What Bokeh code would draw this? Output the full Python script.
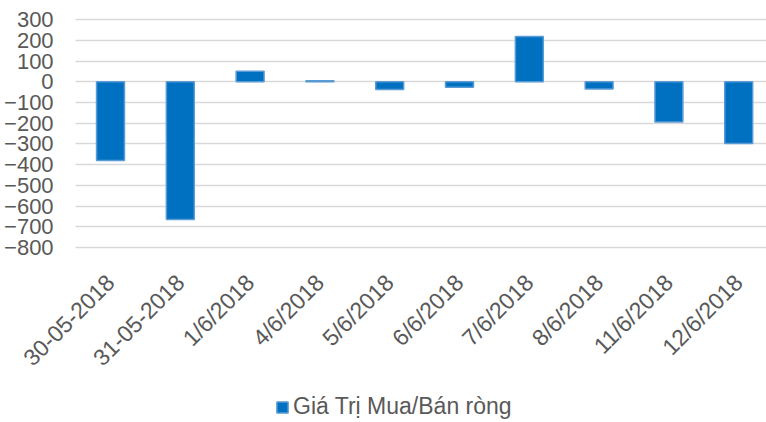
import math
from bokeh.plotting import figure
from bokeh.models import Range1d, FixedTicker, Legend, LegendItem, ColumnDataSource
from bokeh.embed import file_html
from bokeh.resources import INLINE

categories = ["30-05-2018", "31-05-2018", "1/6/2018", "4/6/2018", "5/6/2018",
              "6/6/2018", "7/6/2018", "8/6/2018", "11/6/2018", "12/6/2018"]
values = [-380, -665, 50, 5, -38, -27, 218, -35, -194, -298]
y_ticks = [300, 200, 100, 0, -100, -200, -300, -400, -500, -600, -700, -800]
series_name = "Giá Trị Mua/Bán ròng"

positions = list(range(len(categories)))
src = ColumnDataSource(dict(x=positions, top=values, cat=categories))

FONT = "Liberation Sans"
GREY = "#595959"

X_START, X_END = -1.576, 9.398
PLOT_LEFT = -0.5

# frame covers the whole canvas; both axes are pinned inside it
p = figure(width=766, height=420, output_backend="svg", toolbar_location=None,
           x_range=Range1d(X_START, X_END), y_range=Range1d(-1635.5, 392.1),
           min_border_left=0, min_border_right=0, min_border_top=0, min_border_bottom=0)
p.outline_line_color = None
p.background_fill_color = "white"

r = p.vbar(x="x", top="top", bottom=0, width=0.4, source=src,
           fill_color="#0070C0", line_color="#5B9BD5", line_width=1.5)

p.yaxis.ticker = FixedTicker(ticks=y_ticks)
p.yaxis.fixed_location = PLOT_LEFT
p.yaxis.axis_line_color = None
p.yaxis.major_tick_line_color = None
p.yaxis.major_tick_out = 0
p.yaxis.major_tick_in = 0
p.yaxis.minor_tick_line_color = None
p.yaxis.major_label_standoff = 22
p.yaxis.major_label_text_font = FONT
p.yaxis.major_label_text_font_size = "22px"
p.yaxis.major_label_text_color = GREY

p.xaxis.ticker = FixedTicker(ticks=positions)
p.xaxis.fixed_location = -810
p.xaxis.major_label_overrides = {i: c for i, c in enumerate(categories)}
p.xaxis.major_label_orientation = math.pi / 4
p.xaxis.axis_line_color = None
p.xaxis.major_tick_line_color = None
p.xaxis.major_tick_out = 0
p.xaxis.major_tick_in = 0
p.xaxis.minor_tick_line_color = None
p.xaxis.major_label_standoff = 29
p.xaxis.major_label_text_font = FONT
p.xaxis.major_label_text_font_size = "23px"
p.xaxis.major_label_text_color = GREY

p.xgrid.grid_line_color = None
p.ygrid.ticker = FixedTicker(ticks=y_ticks)
p.ygrid.grid_line_color = "#D9D9D9"
p.ygrid.grid_line_width = 1.5
if "cross_bounds" in p.ygrid[0].properties():
    p.ygrid.cross_bounds = (PLOT_LEFT, X_END)

legend = Legend(items=[LegendItem(label=series_name, renderers=[r])],
                location=(275, 0), orientation="horizontal",
                border_line_color=None, background_fill_alpha=0,
                label_text_font=FONT, label_text_font_size="23px", label_text_color=GREY,
                glyph_width=14, glyph_height=14, label_standoff=4,
                padding=0, margin=0, spacing=0)
p.add_layout(legend, "center")

open("out.html", "w").write(file_html(p, INLINE))
